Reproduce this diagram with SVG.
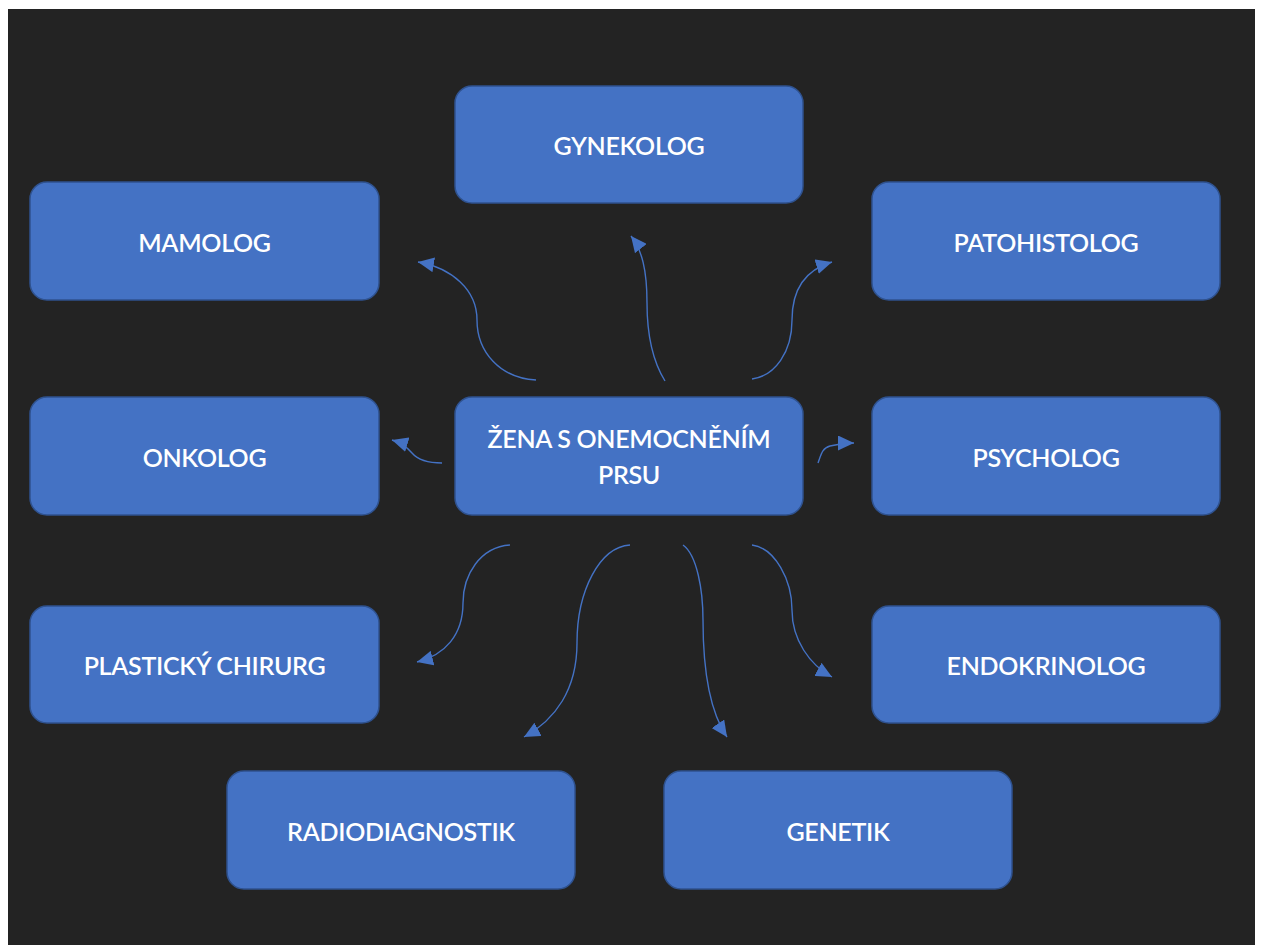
<svg xmlns="http://www.w3.org/2000/svg" width="1262" height="945" viewBox="0 0 1262 945">
<style>
.node rect{fill:#4472c4;stroke:#2f528f;stroke-width:1.5}
.node text{fill:#ffffff;font-family:Lato,"Open Sans","Liberation Sans",sans-serif;font-size:25px;letter-spacing:-0.3px;font-weight:600;text-anchor:middle}
#connectors path{fill:none;stroke:#4472c4;stroke-width:1.4}
</style>
<defs>
<marker id="arr" markerUnits="userSpaceOnUse" markerWidth="17" markerHeight="15" refX="16" refY="7.5" orient="auto">
<path d="M0,0 L16,7.5 L0,15 Z" fill="#4472c4"/>
</marker>
</defs>
<rect x="0" y="0" width="1262" height="945" fill="#ffffff"/>
<rect x="8" y="9" width="1247" height="936" fill="#232323"/>
<g id="connectors">
<path marker-end="url(#arr)" d="M536,380 C500,378 477,352 477,320 C477,290 452,268 418,262"/>
<path marker-end="url(#arr)" d="M665,381 C652,360 647,335 647,303 C647,270 642,250 631,236"/>
<path marker-end="url(#arr)" d="M752,379 C775,376 792,352 792,320 C792,290 805,270 832,262"/>
<path marker-end="url(#arr)" d="M442,463 C428,463 418,460 412,453 C407,447 402,443 392,440"/>
<path marker-end="url(#arr)" d="M818,463 C821,455 822,448 830,446 C838,444 845,443 854,443"/>
<path marker-end="url(#arr)" d="M510,545 C480,547 463,575 463,603 C463,635 445,655 417,662"/>
<path marker-end="url(#arr)" d="M630,545 C600,547 577,590 577,643 C577,690 555,720 524,737"/>
<path marker-end="url(#arr)" d="M683,545 C697,555 703,590 703,620 C703,680 712,715 727,737"/>
<path marker-end="url(#arr)" d="M752,545 C775,548 792,580 792,610 C792,640 810,665 832,677"/>
</g>
<g id="gynekolog" class="node"><rect x="455" y="86" width="348" height="117" rx="17"/><text x="629" y="155">GYNEKOLOG</text></g>
<g id="mamolog" class="node"><rect x="30" y="182" width="349" height="118" rx="17"/><text x="204.5" y="252">MAMOLOG</text></g>
<g id="patohistolog" class="node"><rect x="872" y="182" width="348" height="118" rx="17"/><text x="1046" y="252">PATOHISTOLOG</text></g>
<g id="onkolog" class="node"><rect x="30" y="397" width="349" height="118" rx="17"/><text x="204.5" y="467">ONKOLOG</text></g>
<g id="center" class="node"><rect x="455" y="397" width="348" height="118" rx="17"/><text x="629" y="448">ŽENA S ONEMOCNĚNÍM</text><text x="629" y="484">PRSU</text></g>
<g id="psycholog" class="node"><rect x="872" y="397" width="348" height="118" rx="17"/><text x="1046" y="467">PSYCHOLOG</text></g>
<g id="plasticky" class="node"><rect x="30" y="606" width="349" height="117" rx="17"/><text x="204.5" y="675">PLASTICKÝ CHIRURG</text></g>
<g id="endokrinolog" class="node"><rect x="872" y="606" width="348" height="117" rx="17"/><text x="1046" y="675">ENDOKRINOLOG</text></g>
<g id="radiodiagnostik" class="node"><rect x="227" y="771" width="348" height="118" rx="17"/><text x="401" y="841">RADIODIAGNOSTIK</text></g>
<g id="genetik" class="node"><rect x="664" y="771" width="348" height="118" rx="17"/><text x="838" y="841">GENETIK</text></g>
</svg>
